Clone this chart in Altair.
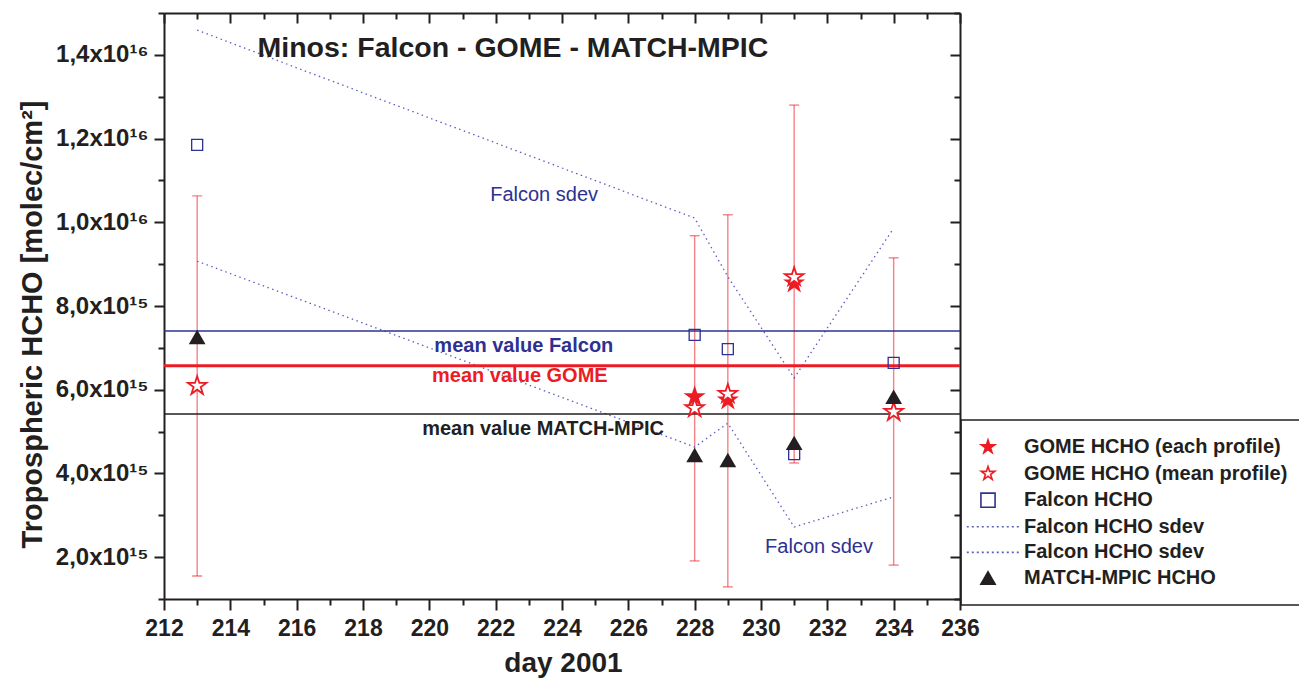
import altair as alt
import pandas as pd

# ---------------- data ----------------
days = [213, 228, 229, 231, 234]
gome_each_days = [228, 229, 231]
gome_each = [5.83e15, 5.75e15, 8.55e15]
gome_mean = [6.09e15, 5.56e15, 5.90e15, 8.69e15, 5.47e15]
falcon = [1.185e16, 7.31e15, 6.97e15, 4.46e15, 6.64e15]
falcon_sdev_upper = [1.459e16, 1.01e16, 8.70e15, 6.28e15, 9.86e15]
falcon_sdev_lower = [9.07e15, 4.63e15, 5.20e15, 2.72e15, 3.44e15]
match_mpic = [7.26e15, 4.44e15, 4.32e15, 4.73e15, 5.83e15]
err_low = [1.55e15, 1.91e15, 1.29e15, 4.25e15, 1.81e15]
err_high = [1.063e16, 9.68e15, 1.018e16, 1.28e16, 9.15e15]

mean_names = ["mean value Falcon", "mean value GOME", "mean value MATCH-MPIC"]
mean_values = [7.40e15, 6.57e15, 5.42e15]
mean_label_day = [222.85, 222.73, 223.43]
mean_label_value = [7.04e15, 6.33e15, 5.06e15]

sdev_label_text = ["Falcon sdev", "Falcon sdev"]
sdev_label_day = [223.46, 231.75]
sdev_label_value = [1.065e16, 2.24e15]

title_text = ["Minos: Falcon - GOME - MATCH-MPIC"]
title_day = [222.52]
title_value = [1.416e16]

legend_names = ["GOME HCHO (each profile)", "GOME HCHO (mean profile)", "Falcon HCHO",
                "Falcon HCHO sdev", "Falcon HCHO sdev ", "MATCH-MPIC HCHO"]

x_title = "day 2001"
y_title = "Tropospheric HCHO [molec/cm²]"
x_ticks = list(range(212, 237))
y_ticks = [k * 1e15 for k in range(1, 16)]

# ---------------- styling ----------------
FONT = "Liberation Sans"
INK = "#231f20"
RED = "#ed1c24"
BLUE = "#2e3192"
SDEV = "#5a5fbf"
STAR = ("M0,-1L0.225,-0.309L0.951,-0.309L0.363,0.118L0.588,0.809L0,0.382"
        "L-0.588,0.809L-0.363,0.118L-0.951,-0.309L-0.225,-0.309Z")
LINE = "M-3,0H4.4"

xs = alt.Scale(domain=[212, 236], nice=False, zero=False)
ys = alt.Scale(domain=[1e15, 1.5e16], nice=False, zero=False)

x_major = "datum.value % 2 == 0"
y_major = "round(datum.value / 1e15) % 2 == 0"
ylabel = ("round(datum.value / 1e15) % 2 != 0 ? '' : (datum.value >= 1e16 ? "
          "replace(format(datum.value / 1e16, '.1f'), '.', ',') + 'x10¹⁶' : "
          "replace(format(datum.value / 1e15, '.1f'), '.', ',') + 'x10¹⁵')")

common = dict(grid=False, domainColor=INK, domainWidth=2, tickColor=INK, tickWidth=2)

bottom_axis = alt.Axis(
    orient="bottom", values=x_ticks, labelExpr=f"{x_major} ? datum.label : ''",
    labelFont=FONT, labelFontSize=23, labelFontWeight="bold", labelColor=INK,
    labelPadding=7, labelOverlap=False, labelFlush=False,
    tickSize={"expr": f"{x_major} ? 11 : 6"},
    title=x_title, titleFont=FONT, titleFontSize=28, titleFontWeight="bold",
    titleColor=INK, titleX=399, titleY=64, titleBaseline="middle", titleAlign="center",
    **common)
left_axis = alt.Axis(
    orient="left", values=y_ticks, labelExpr=ylabel,
    labelFont=FONT, labelFontSize=24, labelFontWeight="bold", labelColor=INK,
    labelPadding=6, labelOverlap=False, labelFlush=False,
    tickSize={"expr": f"{y_major} ? 10 : 6"},
    title=y_title, titleFont=FONT, titleFontSize=29, titleFontWeight="bold",
    titleColor=INK, titleX=-132, titleY=311, titleAngle=270,
    titleBaseline="middle", titleAlign="center",
    **common)
top_axis = alt.Axis(orient="top", values=x_ticks, labels=False, title=None,
                    tickSize={"expr": f"{x_major} ? -10 : -6"}, **common)
right_axis = alt.Axis(orient="right", values=y_ticks, labels=False, title=None,
                      tickSize={"expr": f"{y_major} ? -10 : -6"}, **common)

# ---------------- tables ----------------
err_df = pd.DataFrame({"day": days, "lo": err_low, "hi": err_high})
cap_df = pd.DataFrame({"day": days + days, "v": err_low + err_high})
sd_df = pd.DataFrame({"day": days + days, "v": falcon_sdev_upper + falcon_sdev_lower,
                      "band": ["upper"] * len(days) + ["lower"] * len(days)})
mean_df = pd.DataFrame({"name": mean_names, "v": mean_values})
mean_lab_df = pd.DataFrame({"name": mean_names, "day": mean_label_day, "v": mean_label_value})
sd_lab_df = pd.DataFrame({"t": sdev_label_text, "day": sdev_label_day, "v": sdev_label_value})
title_df = pd.DataFrame({"t": title_text, "day": title_day, "v": title_value})
each_df = pd.DataFrame({"day": gome_each_days, "v": gome_each})
gmean_df = pd.DataFrame({"day": days, "v": gome_mean})
falcon_df = pd.DataFrame({"day": days, "v": falcon})
match_df = pd.DataFrame({"day": days, "v": match_mpic})
leg_df = pd.DataFrame({"series": legend_names})

X = lambda f="day": alt.X(f"{f}:Q", scale=xs, axis=None)
Y = lambda f="v": alt.Y(f"{f}:Q", scale=ys, axis=None)

err = alt.Chart(err_df).mark_rule(color=RED, strokeWidth=1.4, opacity=0.55).encode(
    x=alt.X("day:Q", scale=xs, axis=bottom_axis),
    y=alt.Y("lo:Q", scale=ys, axis=left_axis), y2="hi:Q")
caps = alt.Chart(cap_df).mark_tick(orient="horizontal", size=10, thickness=1.4,
                                   color=RED, opacity=0.55).encode(
    x=alt.X("day:Q", scale=xs, axis=top_axis),
    y=alt.Y("v:Q", scale=ys, axis=right_axis))
sdev = alt.Chart(sd_df).mark_line(color=SDEV, strokeWidth=1.3, strokeDash=[1.5, 3.5]).encode(
    x=X(), y=Y(), detail="band:N")
mean_scale = alt.Scale(domain=mean_names, range=[BLUE, RED, INK])
means_thin = alt.Chart(mean_df).transform_filter(
    alt.datum.name != mean_names[1]).mark_rule(strokeWidth=1.5).encode(
    y=Y(), color=alt.Color("name:N", scale=mean_scale, legend=None))
means_thick = alt.Chart(mean_df).transform_filter(
    alt.datum.name == mean_names[1]).mark_rule(strokeWidth=3).encode(
    y=Y(), color=alt.Color("name:N", scale=mean_scale, legend=None))
squares = alt.Chart(falcon_df).mark_point(shape="square", size=121, filled=False, stroke=BLUE,
                                          strokeWidth=1.3, opacity=1).encode(x=X(), y=Y())
filled_stars = alt.Chart(each_df).mark_point(shape=STAR, size=540, filled=True, color=RED,
                                             opacity=1).encode(x=X(), y=Y())
open_stars = alt.Chart(gmean_df).mark_point(shape=STAR, size=380, filled=True, fill="white",
                                            stroke=RED, strokeWidth=1.8, opacity=1).encode(x=X(), y=Y())
triangles = alt.Chart(match_df).mark_point(shape="triangle-up", size=280, filled=True, color=INK,
                                           opacity=1).encode(x=X(), y=Y())
mean_labels = alt.Chart(mean_lab_df).mark_text(font=FONT, fontSize=20, fontWeight="bold").encode(
    x=X(), y=Y(), text="name:N", color=alt.Color("name:N", scale=mean_scale, legend=None))
sd_labels = alt.Chart(sd_lab_df).mark_text(font=FONT, fontSize=20, color=BLUE).encode(
    x=X(), y=Y(), text="t:N")
title = alt.Chart(title_df).mark_text(font=FONT, fontSize=28.5, fontWeight="bold", color=INK).encode(
    x=X(), y=Y(), text="t:N")

leg = alt.Legend(orient="none", legendX=797, legendY=407, title=None, padding=17,
                 strokeColor=INK, labelFont=FONT, labelFontSize=20, labelFontWeight="bold",
                 labelColor=INK, labelOffset=26, rowPadding=5.6, symbolSize=200,
                 symbolStrokeWidth=1.6, symbolOpacity=1, labelLimit=400)
legend_layer = alt.Chart(leg_df).mark_point(opacity=0, size=200).encode(
    shape=alt.Shape("series:N", scale=alt.Scale(domain=legend_names,
                    range=[STAR, STAR, "square", LINE, LINE, "triangle-up"]), legend=leg),
    fill=alt.Fill("series:N", scale=alt.Scale(domain=legend_names,
                  range=[RED, "white", "transparent", "transparent", "transparent", INK]), legend=leg),
    stroke=alt.Stroke("series:N", scale=alt.Scale(domain=legend_names,
                      range=[RED, RED, BLUE, SDEV, SDEV, INK]), legend=leg),
    strokeDash=alt.StrokeDash("series:N", scale=alt.Scale(domain=legend_names,
                              range=[[1, 0], [1, 0], [1, 0], [2, 3], [2, 3], [1, 0]]), legend=leg),
)

chart = alt.layer(
    err, caps, sdev, means_thin, means_thick, squares, filled_stars, open_stars, triangles,
    mean_labels, sd_labels, title, legend_layer
).resolve_axis(x="independent", y="independent").properties(
    width=796, height=586,
    padding={"left": 156, "top": 5, "right": 339, "bottom": 82},
    autosize=alt.AutoSizeParams(type="none"),
    background="white",
).configure_view(stroke=None).configure_legend(strokeWidth=1.5)

chart.save("out.html", embed_options={"renderer": "svg", "actions": False})
